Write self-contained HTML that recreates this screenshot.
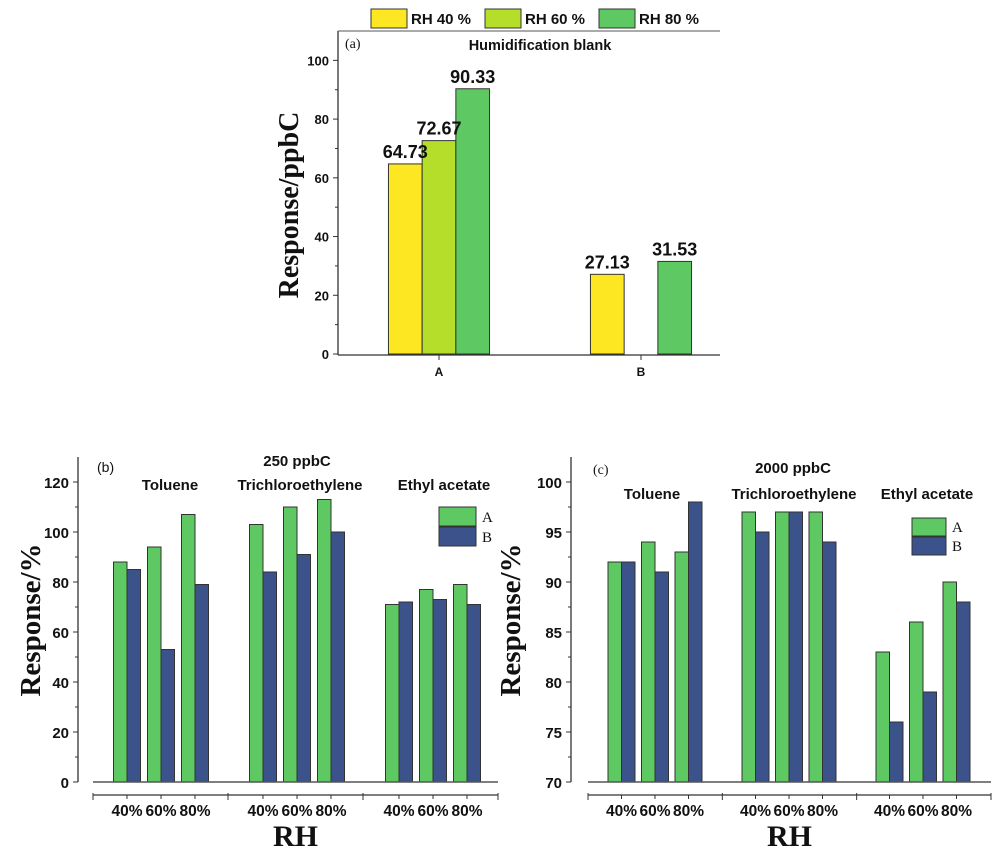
<!DOCTYPE html>
<html><head><meta charset="utf-8"><style>
html,body{margin:0;padding:0;background:#fff;}
svg{display:block;}
text{font-family:"Liberation Sans",Arial,sans-serif;fill:#111;}
.serif{font-family:"Liberation Serif","Times New Roman",serif;}
</style></head><body>
<svg id="chart" width="1000" height="856" viewBox="0 0 1000 856" xmlns="http://www.w3.org/2000/svg"></svg>
<script>
// Panel (a) data
const aCategories = ["A", "B"];
const aSeriesNames = ["RH 40 %", "RH 60 %", "RH 80 %"];
const aValues40 = [64.73, 27.13];
const aValues60 = [72.67, null];
const aValues80 = [90.33, 31.53];
const aTicks = [0, 20, 40, 60, 80, 100];
// Panel (b) data
const bCompounds = ["Toluene", "Trichloroethylene", "Ethyl acetate"];
const rhLabels = ["40%", "60%", "80%"];
const bValuesA = [88, 94, 107, 103, 110, 113, 71, 77, 79];
const bValuesB = [85, 53, 79, 84, 91, 100, 72, 73, 71];
const bTicks = [0, 20, 40, 60, 80, 100, 120];
// Panel (c) data
const cValuesA = [92, 94, 93, 97, 97, 97, 83, 86, 90];
const cValuesB = [92, 91, 98, 95, 97, 94, 76, 79, 88];
const cTicks = [70, 75, 80, 85, 90, 95, 100];

const svg = document.getElementById('chart');
const NS = 'http://www.w3.org/2000/svg';
function mk(tag, attrs, parent) {
  const e = document.createElementNS(NS, tag);
  for (const k in attrs) e.setAttribute(k, attrs[k]);
  (parent || svg).appendChild(e);
  return e;
}
function txt(str, attrs, parent) { const e = mk('text', attrs, parent); e.textContent = str; return e; }

const COL = {y40: '#fde723', y60: '#b5de2b', g: '#5ec962', b: '#3b528b', edge: '#333'};

// ===== Panel (a) =====
(function () {
  const g = mk('g', {});
  
  
  const x0 = 338, x1 = 720, yTop = 31, yBase = 354;
  const ymin = 0, ymax = 110;
  const Y = v => yBase - (v - ymin) / (ymax - ymin) * (yBase - yTop);
  const catX = [439, 641];
  const bw = 33.7;
  const series = [aValues40, aValues60, aValues80];
  const cols = [COL.y40, COL.y60, COL.g];
  series.forEach((arr, s) => {
    arr.forEach((v, i) => {
      if (v === null) return;
      const x = catX[i] + (s - 1.5) * bw;
      const r = mk('rect', {x: x, y: Y(v), width: bw, height: Y(0) - Y(v), fill: cols[s], stroke: COL.edge, 'stroke-width': 1}, g);
      
      
    });
  });
  series.forEach((arr, s) => {
    arr.forEach((v, i) => {
      if (v === null) return;
      const x = catX[i] + (s - 1.5) * bw;
      const t = txt(v.toFixed(2), {x: x + bw / 2, y: Y(v) - 6, 'text-anchor': 'middle', 'font-size': 18, 'font-weight': 'bold'}, g);
      
      
    });
  });
  // axes
  mk('line', {x1: x0, y1: yTop, x2: x0, y2: yBase + 1, stroke: '#333', 'stroke-width': 1.3}, g);
  mk('line', {x1: x0, y1: yBase + 1, x2: x1, y2: yBase + 1, stroke: '#333', 'stroke-width': 1.3}, g);
  mk('line', {x1: x0, y1: yTop, x2: x1, y2: yTop, stroke: '#555', 'stroke-width': 1}, g);
  for (let v = 10; v <= 100; v += 20) mk('line', {x1: x0 - 3, y1: Y(v), x2: x0, y2: Y(v), stroke: '#333'}, g);
  aTicks.forEach(v => {
    mk('line', {x1: x0 - 5, y1: Y(v), x2: x0, y2: Y(v), stroke: '#333'}, g);
    const t = txt(String(v), {x: x0 - 9, y: Y(v) + 5, 'text-anchor': 'end', 'font-size': 13, 'font-weight': 'bold'}, g);
    
    
  });
  aCategories.forEach((c, i) => {
    mk('line', {x1: catX[i], y1: yBase + 1, x2: catX[i], y2: yBase + 6, stroke: '#333'}, g);
    const t = txt(c, {x: catX[i], y: yBase + 22, 'text-anchor': 'middle', 'font-size': 12, 'font-weight': 'bold'}, g);
    
    
  });
  const yt = txt('Response/ppbC', {x: 0, y: 0, transform: 'translate(298,205) rotate(-90)', 'text-anchor': 'middle', 'font-size': 28, 'font-weight': 'bold', class: 'serif'}, g);
  
  
  const pl = txt('(a)', {x: 345, y: 48, 'font-size': 14, class: 'serif', fill: '#333'}, g);
  
  
  const ti = txt('Humidification blank', {x: 540, y: 50, 'text-anchor': 'middle', 'font-size': 14.5, 'font-weight': 'bold'}, g);
  
  
  // legend
  const lx = [371, 485, 599];
  aSeriesNames.forEach((n, s) => {
    const lg = mk('g', {}, g);
    
    
    mk('rect', {x: lx[s], y: 9, width: 36, height: 19, fill: cols[s], stroke: COL.edge}, lg);
    txt(n, {x: lx[s] + 40, y: 24, 'font-size': 15, 'font-weight': 'bold'}, lg);
  });
})();

// ===== Panels (b), (c) =====
function panel(opts) {
  const g = mk('g', {});
  
  
  const {axisX, bx0, bx1, yTop, yBase, ymin, ymax, slot, ticks, minorStep} = opts;
  const Y = v => yBase - (v - ymin) / (ymax - ymin) * (yBase - yTop);
  const bw = 13.5;
  const slotK = [0, 1, 2, 4, 5, 6, 8, 9, 10];
  const centerX = i => bx0 + slot * (slotK[i] + 1);
  opts.A.forEach((v, i) => {
    const cx = centerX(i);
    const ra = mk('rect', {x: cx - bw, y: Y(v), width: bw, height: Y(ymin) - Y(v), fill: COL.g, stroke: COL.edge, 'stroke-width': 1}, g);
    
    
    const vb = opts.B[i];
    const rb = mk('rect', {x: cx, y: Y(vb), width: bw, height: Y(ymin) - Y(vb), fill: COL.b, stroke: COL.edge, 'stroke-width': 1}, g);
    
    
  });
  // axes
  mk('line', {x1: axisX, y1: yTop, x2: axisX, y2: yBase, stroke: '#333', 'stroke-width': 1.3}, g);
  mk('line', {x1: bx0, y1: yBase, x2: bx1, y2: yBase, stroke: '#555', 'stroke-width': 1.5}, g);
  for (let v = ymin + minorStep; v < ymax; v += minorStep * 2) mk('line', {x1: axisX - 3, y1: Y(v), x2: axisX, y2: Y(v), stroke: '#333'}, g);
  ticks.forEach(v => {
    mk('line', {x1: axisX - 5, y1: Y(v), x2: axisX, y2: Y(v), stroke: '#333'}, g);
    const t = txt(String(v), {x: axisX - 9, y: Y(v) + 6, 'text-anchor': 'end', 'font-size': 15, 'font-weight': 'bold'}, g);
    
    
  });
  // second category axis
  const ay = yBase + 13;
  mk('line', {x1: bx0, y1: ay, x2: bx1, y2: ay, stroke: '#333', 'stroke-width': 1.2}, g);
  [0, 1, 2, 3].forEach(j => {
    const x = bx0 + (bx1 - bx0) * j / 3;
    mk('line', {x1: x, y1: ay - 2, x2: x, y2: ay + 5, stroke: '#333'}, g);
  });
  opts.A.forEach((v, i) => {
    const cx = centerX(i);
    mk('line', {x1: cx, y1: ay, x2: cx, y2: ay + 4, stroke: '#333'}, g);
    const t = txt(rhLabels[i % 3], {x: cx, y: ay + 21, 'text-anchor': 'middle', 'font-size': 15.5, 'font-weight': 'bold'}, g);
    
    
  });
  bCompounds.forEach((c, j) => {
    const t = txt(c, {x: opts.compX[j], y: opts.compY, 'text-anchor': 'middle', 'font-size': 15, 'font-weight': 'bold'}, g);
    
    
  });
  const ti = txt(opts.title, {x: opts.titleX, y: opts.titleY, 'text-anchor': 'middle', 'font-size': 15, 'font-weight': 'bold'}, g);
  
  
  const pl = txt(opts.label, {x: opts.labelX, y: opts.labelY, 'font-size': 14, class: opts.labelSerif ? 'serif' : '', fill: '#333'}, g);
  
  
  const xt = txt('RH', {x: (bx0 + bx1) / 2, y: 846, 'text-anchor': 'middle', 'font-size': 30, 'font-weight': 'bold', class: 'serif'}, g);
  
  
  const yt = txt('Response/%', {x: 0, y: 0, transform: 'translate(' + opts.ytX + ',620) rotate(-90)', 'text-anchor': 'middle', 'font-size': 29, 'font-weight': 'bold', class: 'serif'}, g);
  
  
  // legend
  [['A', COL.g, 0], ['B', COL.b, 1]].forEach(([n, c, k]) => {
    const lg = mk('g', {}, g);
    
    
    const ly = opts.legY + k * opts.legH;
    mk('rect', {x: opts.legX, y: ly, width: opts.legW, height: opts.legH - 1, fill: c, stroke: COL.edge}, lg);
    txt(n, {x: opts.legX + opts.legW + 6, y: ly + opts.legH - 5, 'font-size': 15, class: 'serif', fill: '#333'}, lg);
  });
}

panel({name: 'panel-b', axisX: 78, bx0: 93, bx1: 498, yTop: 457, yBase: 782, ymin: 0, ymax: 130, slot: 34,
  ticks: bTicks, minorStep: 10, A: bValuesA, B: bValuesB,
  compX: [170, 300, 444], compY: 490, title: '250 ppbC', titleX: 297, titleY: 466,
  label: '(b)', labelX: 97, labelY: 472, labelSerif: false, ytX: 40,
  legX: 439, legY: 507, legW: 37, legH: 20});
panel({name: 'panel-c', axisX: 571, bx0: 588, bx1: 991, yTop: 457, yBase: 782, ymin: 70, ymax: 102.5, slot: 33.5,
  ticks: cTicks, minorStep: 2.5, A: cValuesA, B: cValuesB,
  compX: [652, 794, 927], compY: 499, title: '2000 ppbC', titleX: 793, titleY: 473,
  label: '(c)', labelX: 593, labelY: 474, labelSerif: true, ytX: 520,
  legX: 912, legY: 518, legW: 34, legH: 19});
</script>
</body></html>
